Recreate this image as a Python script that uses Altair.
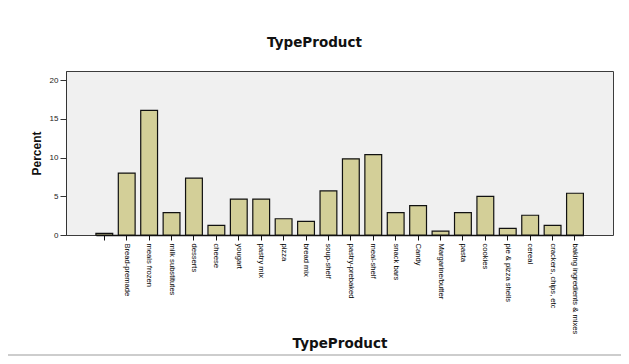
import altair as alt
import pandas as pd

categories = [" ", "Bread-premade", "meals frozen", "milk substitutes", "desserts",
              "cheese", "yougart", "pastry mix", "pizza", "bread mix", "soup-shelf",
              "pastry-prebaked", "meal-shelf", "snack bars", "Candy", "Margarine/butter",
              "pasta", "cookies", "pie & pizza shells", "cereal", "crackers, chips, etc",
              "baking ingredients & mixes"]
percent = [0.2, 8.0, 16.1, 2.9, 7.35, 1.25, 4.65, 4.65, 2.1, 1.77, 5.7,
           9.85, 10.4, 2.9, 3.8, 0.5, 2.9, 5.0, 0.85, 2.55, 1.25, 5.4]
y_ticks = [0, 5, 10, 15, 20]

df = pd.DataFrame({"TypeProduct": categories, "Percent": percent})

W, H = 547, 164

bars = alt.Chart(df).mark_bar(
    fill="#D3CF98", stroke="#111111", strokeWidth=1.2
).encode(
    x=alt.X("TypeProduct:N", sort=None,
            scale=alt.Scale(paddingInner=0.25, paddingOuter=0, range=[29.9, 517.4]),
            axis=alt.Axis(title="TypeProduct", labelAngle=90, labelAlign="left",
                          labelBaseline="middle", labelPadding=3, labelFontSize=7.6,
                          labelFont="Liberation Sans", labelColor="#000000",
                          tickSize=5, tickColor="#111111", domainColor="#111111",
                          domainWidth=1.5, labelLimit=200,
                          titleFont="DejaVu Sans", titleFontSize=13.5, titleFontWeight="bold",
                          titleX=W / 2, titleY=108, titleBaseline="middle",
                          titleAlign="center", titleColor="#111111")),
    y=alt.Y("Percent:Q",
            scale=alt.Scale(domain=[0, 21.2], nice=False),
            axis=alt.Axis(title="Percent", values=y_ticks, grid=False,
                          labelFontSize=8, labelFont="Liberation Sans",
                          labelColor="#222222", labelPadding=2,
                          tickSize=6, tickColor="#333333", domainColor="#333333",
                          titleFont="Liberation Sans", titleFontSize=12,
                          titleFontWeight="bold", titleX=-30, titleY=H / 2,
                          titleAngle=-90, titleBaseline="middle", titleAlign="center",
                          titleColor="#111111")),
)

line = alt.Chart(pd.DataFrame({"a": [0]})).mark_rule(
    color="#BDBDBD", strokeWidth=1.5
).encode(x=alt.value(-58), x2=alt.value(560), y=alt.value(284))

chart = alt.layer(bars, line).properties(
    width=W, height=H,
    title=alt.TitleParams("TypeProduct", font="DejaVu Sans", fontSize=13.5,
                          fontWeight="bold", color="#111111", anchor="middle",
                          offset=22, dx=-25),
    autosize=alt.AutoSizeParams(type="none"),
    padding={"left": 58, "top": 63, "right": 8, "bottom": 121},
).configure_view(
    fill="#F0F0F0", stroke="#3C3C3C", strokeWidth=1
)

chart.save("out.html", embed_options={"renderer": "svg", "actions": False})
